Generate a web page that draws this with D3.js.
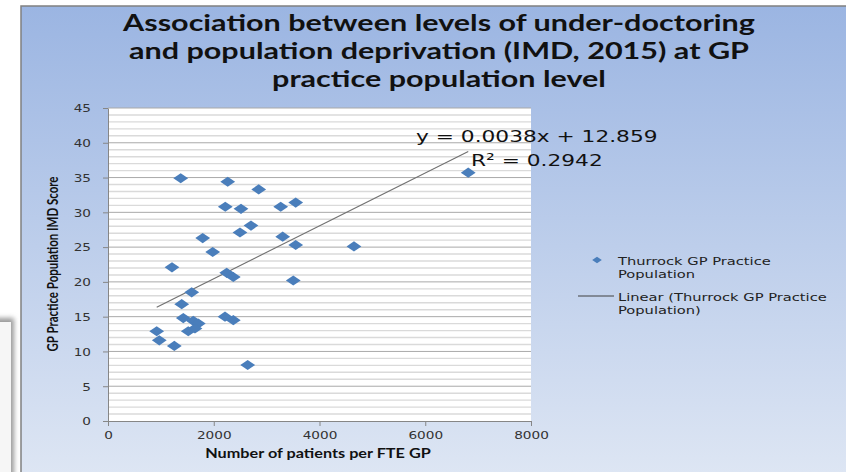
<!DOCTYPE html>
<html>
<head>
<meta charset="utf-8">
<script src="https://cdn.jsdelivr.net/npm/d3@7"></script>
<style>
  html, body { margin: 0; padding: 0; background: #ffffff; }
  svg { display: block; }
</style>
</head>
<body>
<svg id="chart" width="846" height="472"></svg>
<script>
// Thurrock GP practices: patients per FTE GP vs. practice population IMD score
const patientsPerGP = [
  1375, 2264, 2850, 2218, 2515, 3266, 3550, 2704, 2496, 1791, 3304, 3550,
  4652, 1980, 1210, 2245, 2370, 3504, 1583, 1394, 1424, 1613, 1708, 1518,
  1645, 2213, 2370, 921, 970, 1254, 2642, 6813
];
const imdScore = [
  34.9, 34.4, 33.3, 30.8, 30.5, 30.8, 31.4, 28.1, 27.1, 26.3, 26.5, 25.3,
  25.1, 24.3, 22.1, 21.3, 20.7, 20.2, 18.5, 16.8, 14.8, 14.4, 14.0, 12.9,
  13.3, 15.0, 14.5, 12.9, 11.6, 10.8, 8.05, 35.7
];
// Linear trend line as reported on the chart
const trendSlope = 0.0038;
const trendIntercept = 12.859;
const trendR2 = 0.2942;

const xTicks = [0, 2000, 4000, 6000, 8000];
const yTicks = [0, 5, 10, 15, 20, 25, 30, 35, 40, 45];
const titleLines = [
  "Association between levels of under-doctoring",
  "and population deprivation (IMD, 2015) at GP",
  "practice population level"
];
const legendLines = [
  ["Thurrock GP Practice", "Population"],
  ["Linear (Thurrock GP Practice", "Population)"]
];
const xTitle = "Number of patients per FTE GP";
const yTitle = "GP Practice Population IMD Score";

const points = patientsPerGP.map((x, i) => ({ x, y: imdScore[i] }));

// horizontal stretch applied to glyphs
const SX = 1.3;
const svg = d3.select("#chart");
const defs = svg.append("defs");

const grad = defs.append("linearGradient")
  .attr("id", "panelFill").attr("x1", 0).attr("y1", 0).attr("x2", 0).attr("y2", 1);
grad.append("stop").attr("offset", "0%").attr("stop-color", "#9bb5e2");
grad.append("stop").attr("offset", "100%").attr("stop-color", "#dfe7f4");

defs.append("filter").attr("id", "soft")
  .attr("x", "-50%").attr("y", "-50%").attr("width", "200%").attr("height", "200%")
  .append("feGaussianBlur").attr("stdDeviation", 2.5);

// small framed box peeking in at the bottom left
svg.append("rect").attr("x", -10).attr("y", 318).attr("width", 24).attr("height", 180)
  .attr("fill", "#9a9a9a").attr("filter", "url(#soft)");
svg.append("rect").attr("x", -10).attr("y", 322).attr("width", 21).attr("height", 180)
  .attr("fill", "#f6f6f6");

// chart panel
svg.append("rect").attr("x", 21).attr("y", 6).attr("width", 840).attr("height", 480)
  .attr("fill", "url(#panelFill)").attr("stroke", "#808080").attr("stroke-width", 1.5);

// title
const title = svg.append("g").attr("font-family", "Lato, 'Noto Sans', sans-serif")
  .attr("font-weight", "bold").attr("font-size", 23.5).attr("fill", "#111");
titleLines.forEach((t, i) => {
  title.append("text").attr("text-anchor", "middle")
    .attr("transform", `translate(439,${31 + i * 28}) scale(${SX},1)`).text(t);
});

// scales
const x = d3.scaleLinear().domain([0, 8000]).range([108, 531]);
const y = d3.scaleLinear().domain([0, 45]).range([421, 108]);

// plot area
svg.append("rect").attr("x", x(0)).attr("y", y(45))
  .attr("width", x(8000) - x(0)).attr("height", y(0) - y(45)).attr("fill", "#ffffff");

// gridlines: minor every unit, major every 5
const minor = d3.range(1, 45).filter(v => v % 5 !== 0);
svg.append("g").selectAll("line").data(minor).join("line")
  .attr("x1", x(0)).attr("x2", x(8000)).attr("y1", d => y(d)).attr("y2", d => y(d))
  .attr("stroke", "#dadada").attr("stroke-width", 1.4);
svg.append("g").selectAll("line").data(yTicks.filter(v => v > 0)).join("line")
  .attr("x1", x(0)).attr("x2", x(8000)).attr("y1", d => y(d)).attr("y2", d => y(d))
  .attr("stroke", "#a9a9a9").attr("stroke-width", 1);

// axes
const tickFont = "'DejaVu Sans', Verdana, sans-serif";
const yAxis = svg.append("g").attr("transform", `translate(${x(0)},0)`)
  .call(d3.axisLeft(y).tickValues(yTicks).tickSize(5).tickSizeOuter(0));
yAxis.selectAll("text").attr("x", null).attr("dy", "0.36em")
  .attr("transform", `translate(-17,0) scale(${SX},1)`);

const xAxis = svg.append("g").attr("transform", `translate(0,${y(0)})`)
  .call(d3.axisBottom(x).tickValues(xTicks).tickSize(5).tickSizeOuter(0).tickFormat(d3.format("d")));
xAxis.selectAll("text").attr("y", null).attr("dy", null)
  .attr("transform", `translate(0,18) scale(${SX},1)`);

[xAxis, yAxis].forEach(a => {
  a.select(".domain").attr("stroke", "#868686");
  a.selectAll(".tick line").attr("stroke", "#868686");
  a.selectAll("text").attr("font-family", tickFont).attr("font-size", 10.5).attr("fill", "#333");
});

// axis titles
svg.append("text").attr("font-family", "Lato, sans-serif").attr("font-weight", "bold")
  .attr("font-size", 12.5).attr("fill", "#111").attr("text-anchor", "middle")
  .attr("transform", `translate(318,458) scale(${SX},1)`).text(xTitle);
svg.append("text").attr("font-family", "Lato, sans-serif").attr("font-weight", "bold")
  .attr("font-size", 11.5).attr("fill", "#111").attr("text-anchor", "middle")
  .attr("transform", `translate(58,264) scale(${SX},1) rotate(-90)`).text(yTitle);

// trend line over the observed x range
const [xMin, xMax] = d3.extent(patientsPerGP);
const trend = [xMin, xMax].map(v => ({ x: v, y: trendSlope * v + trendIntercept }));
svg.append("path").datum(trend)
  .attr("d", d3.line().x(d => x(d.x)).y(d => y(d.y)))
  .attr("fill", "none").attr("stroke", "#707070").attr("stroke-width", 1.1);

// markers
const diamond = d3.symbol().type(d3.symbolSquare).size(52)();
const MX = 1.45;
svg.append("g").selectAll("path").data(points).join("path")
  .attr("d", diamond)
  .attr("transform", d => `translate(${x(d.x)},${y(d.y)}) scale(${MX},1) rotate(45)`)
  .attr("fill", "#4a7ebb");

// trend equation
const eqFont = "'DejaVu Sans', Verdana, sans-serif";
const eq = svg.append("g").attr("font-family", eqFont).attr("font-size", 16.7).attr("fill", "#111");
eq.append("text").attr("transform", `translate(416,142) scale(${SX},1)`)
  .text(`y = ${trendSlope}x + ${trendIntercept}`);
eq.append("text").attr("transform", `translate(471,166) scale(${SX},1)`)
  .text(`R² = ${trendR2}`);

// legend
const lg = svg.append("g").attr("font-family", eqFont).attr("font-size", 11.3).attr("fill", "#222");
lg.append("path").attr("d", d3.symbol().type(d3.symbolSquare).size(22)())
  .attr("transform", `translate(597,260) scale(${MX},1) rotate(45)`).attr("fill", "#4a7ebb");
lg.append("line").attr("x1", 578).attr("x2", 614).attr("y1", 296).attr("y2", 296)
  .attr("stroke", "#404040").attr("stroke-width", 1);
legendLines.forEach((lines, i) => {
  lines.forEach((t, j) => {
    lg.append("text").attr("transform", `translate(618,${264.5 + i * 36 + j * 13.5}) scale(${SX},1)`).text(t);
  });
});
</script>
</body>
</html>
